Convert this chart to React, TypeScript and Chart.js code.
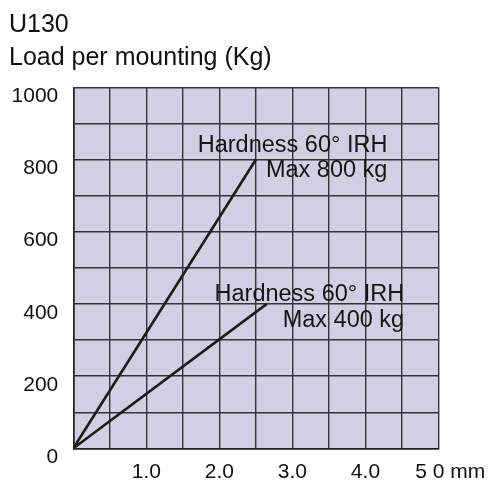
import React, { useEffect, useRef } from "react";
import { Chart, registerables } from "chart.js";

Chart.register(...registerables);

const titleText = "U130";
const subtitleText = "Load per mounting (Kg)";

// deflection (mm) vs load (kg)
const steepX = [0, 2.5];
const steepY = [0, 800];
const shallowX = [0, 2.65];
const shallowY = [0, 400];

const xLabelValues = [1, 2, 3, 4, 5];
const xLabelTexts = ["1.0", "2.0", "3.0", "4.0", "    5 0 mm"];
const yLabelValues = [0, 200, 400, 600, 800, 1000];

const annotationTexts = [
  ["Hardness 60° IRH", "Max 800 kg"],
  ["Hardness 60° IRH", "Max 400 kg"],
];
// right edge (mm) and baseline (kg) per text line
const annotationRightX = [
  [4.3, 4.3],
  [4.53, 4.53],
];
const annotationBaseY = [
  [821, 751],
  [409, 337],
];

const FONT = "'Liberation Sans', Arial, sans-serif";

const bgPlugin = {
  id: "areaBg",
  beforeDraw(chart: any) {
    const { ctx, chartArea } = chart;
    ctx.save();
    ctx.fillStyle = "#cfd0e3";
    ctx.fillRect(chartArea.left, chartArea.top, chartArea.right - chartArea.left, chartArea.bottom - chartArea.top);
    ctx.restore();
  },
};

const annotationPlugin = {
  id: "annots",
  afterDatasetsDraw(chart: any) {
    const { ctx } = chart;
    const xs = chart.scales.x;
    const ys = chart.scales.y;
    ctx.save();
    ctx.fillStyle = "#151515";
    ctx.font = `23.5px ${FONT}`;
    ctx.textAlign = "right";
    ctx.textBaseline = "alphabetic";
    annotationTexts.forEach((lines, i) => {
      lines.forEach((t, j) => {
        ctx.fillText(t, xs.getPixelForValue(annotationRightX[i][j]), ys.getPixelForValue(annotationBaseY[i][j]));
      });
    });
    ctx.restore();
  },
};

export default function App() {
  const ref = useRef<HTMLCanvasElement | null>(null);
  useEffect(() => {
    if (!ref.current) return;
    const chart = new Chart(ref.current, {
      type: "line",
      data: {
        datasets: [
          {
            data: steepX.map((x, i) => ({ x, y: steepY[i] })),
            borderColor: "#1c1c1c",
            borderWidth: 2.6,
            pointRadius: 0,
          },
          {
            data: shallowX.map((x, i) => ({ x, y: shallowY[i] })),
            borderColor: "#1c1c1c",
            borderWidth: 2.6,
            pointRadius: 0,
          },
        ],
      },
      options: {
        animation: false,
        responsive: true,
        maintainAspectRatio: false,
        layout: { padding: { left: 9, right: 54.5, top: 0, bottom: 0 } },
        plugins: {
          legend: { display: false },
          tooltip: { enabled: false },
          title: {
            display: true,
            text: titleText,
            align: "start",
            color: "#111",
            font: { family: FONT, size: 25, weight: "normal" },
            padding: { top: 10.5, bottom: 0 },
          },
          subtitle: {
            display: true,
            text: subtitleText,
            align: "start",
            color: "#111",
            font: { family: FONT, size: 25, weight: "normal" },
            padding: { top: 2.5, bottom: 14.3 },
          },
        },
        scales: {
          x: {
            type: "linear",
            min: 0,
            max: 5,
            afterFit(s: any) {
              s.height = 33.7;
              s.paddingLeft = 0;
              s.paddingRight = 0;
            },
            ticks: {
              stepSize: 0.5,
              autoSkip: false,
              maxRotation: 0,
              padding: 11,
              color: "#111",
              font: { family: FONT, size: 21 },
              callback: (v: any) => {
                const idx = xLabelValues.findIndex((lv) => Math.abs(lv - Number(v)) < 1e-6);
                return idx >= 0 ? xLabelTexts[idx] : "";
              },
            },
            grid: { color: "#33333d", lineWidth: 1.4, drawTicks: false },
            border: { display: true, color: "#222", width: 1.6 },
          },
          y: {
            type: "linear",
            min: 0,
            max: 1000,
            afterFit(s: any) {
              s.width = 64.3;
              s.paddingTop = 0;
              s.paddingBottom = 0;
            },
            ticks: {
              stepSize: 100,
              autoSkip: false,
              padding: 15,
              labelOffset: 9,
              color: "#111",
              font: { family: FONT, size: 21 },
              callback: (v: any) => (yLabelValues.includes(Number(v)) ? String(v) : ""),
            },
            grid: { color: "#33333d", lineWidth: 1.4, drawTicks: false },
            border: { display: true, color: "#222", width: 1.6 },
          },
        },
      },
      plugins: [bgPlugin, annotationPlugin],
    } as any);
    return () => chart.destroy();
  }, []);
  return (
    <div style={{ position: "absolute", left: 0, top: 0, width: 493, height: 482 }}>
      <canvas ref={ref} />
    </div>
  );
}
